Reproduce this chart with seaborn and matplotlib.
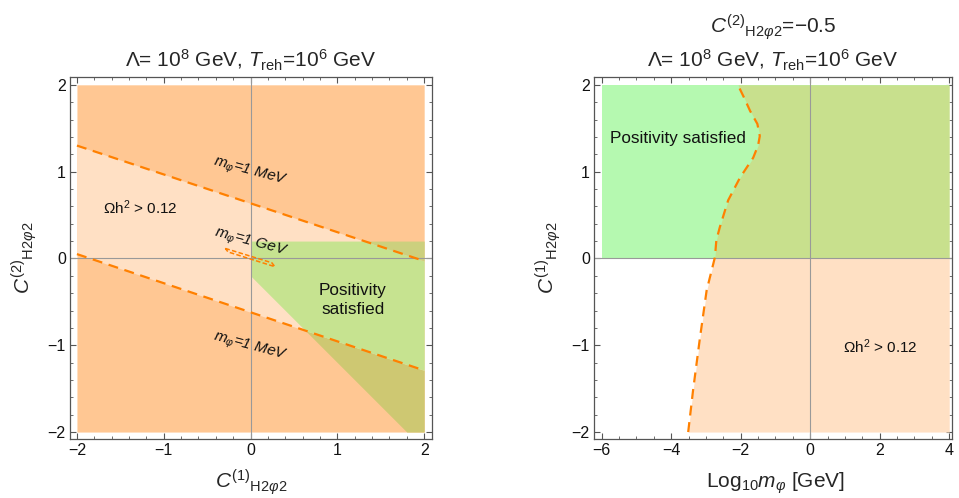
import numpy as np
import matplotlib
matplotlib.use("Agg")
import matplotlib.pyplot as plt
import seaborn as sns
from matplotlib.ticker import MultipleLocator

# ---------------- data ----------------
# Left panel: C2 vs C1
upper_mev_x = [-2.0, 2.0]          # m_phi = 1 MeV contour (upper)
upper_mev_y = [1.30, -0.03]
lower_mev_x = [-2.0, 2.0]          # m_phi = 1 MeV contour (lower)
lower_mev_y = [0.05, -1.29]
gev_loop_x = [-0.29, 0.245, 0.28, -0.26, -0.29]   # m_phi = 1 GeV thin contour
gev_loop_y = [0.115, -0.05, -0.095, 0.075, 0.115]
pos_top_y = 0.20                   # positivity region upper edge
pos_diag_x = [0.0, 1.8]            # positivity region lower edge
pos_diag_y = [-0.2, -2.0]
left_ticks = [-2, -1, 0, 1, 2]

# Right panel: C1 vs log10 m_phi
curve_y = [-2.0, -1.52, -0.94, -0.37, 0.015, 0.21, 0.36, 0.67, 0.93, 1.16, 1.30, 1.41, 1.55, 1.70, 1.85, 1.99]
curve_x = [-3.51, -3.37, -3.18, -2.98, -2.74, -2.70, -2.60, -2.36, -2.02, -1.64, -1.50, -1.45, -1.52, -1.73, -1.90, -2.07]
right_xticks = [-6, -4, -2, 0, 2, 4]
right_yticks = [-2, -1, 0, 1, 2]

# ---------------- style ----------------
sns.set_style("ticks")
plt.rcParams["font.family"] = ["Liberation Sans", "DejaVu Sans"]
plt.rcParams["mathtext.fontset"] = "custom"
plt.rcParams["mathtext.rm"] = "Liberation Sans"
plt.rcParams["mathtext.it"] = "Liberation Sans:italic"
plt.rcParams["mathtext.bf"] = "Liberation Sans:bold"

DARK = "#FFC793"
PEACH = "#FFE0C4"
GREEN_ON_PEACH = "#C6E390"
GREEN_ON_DARK = "#CEC872"
GREEN_ON_DARK_TOP = "#CCD07E"
LGREEN = "#B5F9B0"
OLIVE = "#C8E08D"
DASH = "#FF8000"
AXC = "#555555"

fig = plt.figure(figsize=(9.59, 4.98), dpi=100)
axL = fig.add_axes([70/959, 59/498, 362/959, 362/498])
axR = fig.add_axes([594/959, 59/498, 358/959, 362/498])

def style_axes(ax, xmaj, xmin, ymaj, ymin):
    ax.xaxis.set_major_locator(MultipleLocator(xmaj))
    ax.xaxis.set_minor_locator(MultipleLocator(xmin))
    ax.yaxis.set_major_locator(MultipleLocator(ymaj))
    ax.yaxis.set_minor_locator(MultipleLocator(ymin))
    ax.tick_params(which="both", direction="in", top=True, right=True,
                   color=AXC, labelsize=11.5, labelcolor="#111111")
    ax.tick_params(which="major", length=4, width=0.8, pad=3)
    ax.tick_params(which="minor", length=2, width=0.6)
    for s in ax.spines.values():
        s.set_color(AXC)
        s.set_linewidth(0.9)
    ax.set_xlabel("")
    ax.set_ylabel("")

def minus(v):
    return ("\u2212" + str(abs(v))) if v < 0 else str(v)

# ---------------- left panel ----------------
ax = axL
xg = np.linspace(-2, 2, 2001)
up = np.interp(xg, upper_mev_x, upper_mev_y)
lo = np.interp(xg, lower_mev_x, lower_mev_y)
ax.fill_between(xg, -2, 2, color=DARK, lw=0)
ax.fill_between(xg, lo, up, color=PEACH, lw=0)

xp = np.linspace(0, 2, 2001)
upp = np.interp(xp, upper_mev_x, upper_mev_y)
lop = np.interp(xp, lower_mev_x, lower_mev_y)
slope = (pos_diag_y[1] - pos_diag_y[0]) / (pos_diag_x[1] - pos_diag_x[0])
bot = np.maximum(-2.0, pos_diag_y[0] + slope * (xp - pos_diag_x[0]))
top = np.full_like(xp, pos_top_y)
b1, t1 = bot, np.minimum(lop, top)
ax.fill_between(xp, b1, t1, where=t1 > b1, color=GREEN_ON_DARK, lw=0)
b2, t2 = np.maximum(bot, lop), np.minimum(top, upp)
ax.fill_between(xp, b2, t2, where=t2 > b2, color=GREEN_ON_PEACH, lw=0)
b3, t3 = np.maximum(bot, upp), top
ax.fill_between(xp, b3, t3, where=t3 > b3, color=GREEN_ON_DARK_TOP, lw=0)

ax.axvline(0, color="#999999", lw=0.8)
ax.axhline(0, color="#999999", lw=0.8)

for lx, ly in [(upper_mev_x, upper_mev_y), (lower_mev_x, lower_mev_y)]:
    sns.lineplot(x=lx, y=ly, ax=ax, color=DASH, lw=1.6, sort=False,
                 estimator=None, linestyle=(0, (4.5, 3)))
sns.lineplot(x=gev_loop_x, y=gev_loop_y, ax=ax, color=DASH, lw=1.1, sort=False,
             estimator=None, linestyle=(0, (3, 1.5)))

ax.set_xlim(-2.08, 2.09)
ax.set_ylim(-2.08, 2.09)
style_axes(ax, 1, 0.2, 1, 0.2)
ax.set_xticks(left_ticks)
ax.set_xticklabels([minus(v) for v in left_ticks])
ax.set_yticks(left_ticks)
ax.set_yticklabels([minus(v) for v in left_ticks])

ax.text(0.0, 1.0, r"$m_{\varphi}$=1 MeV", rotation=-15, ha="center", va="center",
        fontsize=11, style="italic", color="#111111")
ax.text(0.0, 0.18, r"$m_{\varphi}$=1 GeV", rotation=-15, ha="center", va="center",
        fontsize=11, style="italic", color="#111111")
ax.text(0.0, -1.02, r"$m_{\varphi}$=1 MeV", rotation=-15, ha="center", va="center",
        fontsize=11, style="italic", color="#111111")
ax.text(-1.27, 0.59, r"$\mathrm{\Omega h^2}$ > 0.12", ha="center", va="center",
        fontsize=11, color="#111111")
ax.text(1.18, -0.48, "Positivity\nsatisfied", ha="center", va="center",
        fontsize=12.3, color="#111111", linespacing=1.3)

fig.text(251/959, 1 - 60/498, r"$\Lambda$= 10$^8$ GeV, $T_{\mathrm{reh}}$=10$^6$ GeV",
         ha="center", va="center", fontsize=15)
fig.text(251/959, 1 - 482/498, r"$C^{(1)}{}_{\mathrm{H2}\varphi\mathrm{2}}$",
         ha="center", va="center", fontsize=15)
fig.text(24/959, 1 - 258/498, r"$C^{(2)}{}_{\mathrm{H2}\varphi\mathrm{2}}$",
         ha="center", va="center", fontsize=15, rotation=90)

# ---------------- right panel ----------------
ax = axR
yg = np.linspace(-2, 2, 2001)
cx = np.interp(yg, curve_y, curve_x)
ax.fill_between([-6, 4], 0, 2, color=LGREEN, lw=0)
ax.fill_betweenx(yg, cx, 4, where=yg <= 0, color=PEACH, lw=0)
ax.fill_betweenx(yg, cx, 4, where=yg >= 0, color=OLIVE, lw=0)
ax.axvline(0, color="#999999", lw=0.8)
ax.axhline(0, color="#999999", lw=0.8)
sns.lineplot(x=curve_x, y=curve_y, ax=ax, color=DASH, lw=1.6, sort=False,
             estimator=None, linestyle=(0, (4.5, 3)))
ax.set_xlim(-6.22, 4.08)
ax.set_ylim(-2.08, 2.09)
style_axes(ax, 2, 0.5, 1, 0.2)
ax.set_xticks(right_xticks)
ax.set_xticklabels([minus(v) for v in right_xticks])
ax.set_yticks(right_yticks)
ax.set_yticklabels([minus(v) for v in right_yticks])

ax.text(-5.77, 1.38, "Positivity satisfied", ha="left", va="center",
        fontsize=12.3, color="#111111")
ax.text(2.01, -1.02, r"$\mathrm{\Omega h^2}$ > 0.12", ha="center", va="center",
        fontsize=11, color="#111111")

fig.text(773/959, 1 - 27/498, r"$C^{(2)}{}_{\mathrm{H2}\varphi\mathrm{2}}$=$-$0.5",
         ha="center", va="center", fontsize=15)
fig.text(773/959, 1 - 60/498, r"$\Lambda$= 10$^8$ GeV, $T_{\mathrm{reh}}$=10$^6$ GeV",
         ha="center", va="center", fontsize=15)
fig.text(775/959, 1 - 483/498, r"Log$_{10}$$m_{\varphi}$ [GeV]",
         ha="center", va="center", fontsize=15)
fig.text(548/959, 1 - 258/498, r"$C^{(1)}{}_{\mathrm{H2}\varphi\mathrm{2}}$",
         ha="center", va="center", fontsize=15, rotation=90)

fig.savefig("out.png", dpi=100)
